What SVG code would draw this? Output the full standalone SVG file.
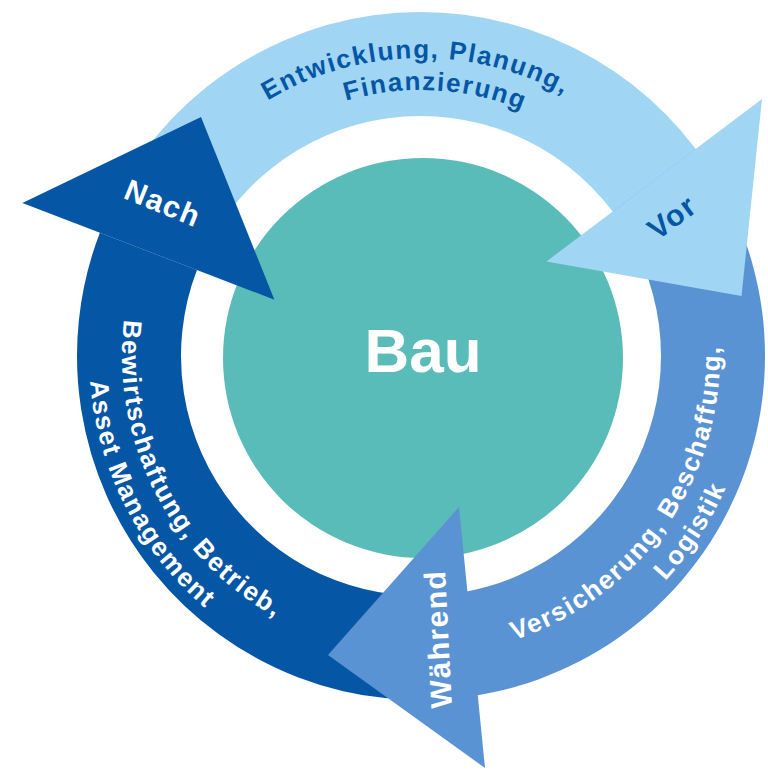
<svg xmlns="http://www.w3.org/2000/svg" xmlns:xlink="http://www.w3.org/1999/xlink" width="768" height="771" viewBox="0 0 768 771">
  <style>
    .vor { fill: #a0d6f4; }
    .waehrend { fill: #5a93d3; }
    .nach { fill: #0656a6; }
    .bau { fill: #59bcb8; }
    .lbl { font-family: "Liberation Sans", Arial, sans-serif; font-weight: bold; }
    .ring { font-size: 26px; letter-spacing: 1.6px; }
    .head { font-size: 30px; letter-spacing: 1.5px; }
    .dk { fill: #0656a6; }
    .wt { fill: #ffffff; }
  </style>
  <defs>
    <path id="topArc1" d="M 123 356 A 298 298 0 0 1 719 356"/>
    <path id="topArc2" d="M 155 356 A 266 266 0 0 1 687 356"/>
    <path id="leftArc1" d="M 421 57 A 299 299 0 0 0 421 655"/>
    <path id="leftArc2" d="M 421 24 A 332 332 0 0 0 421 688"/>
    <path id="rightArc1" d="M 421 655 A 299 299 0 0 0 421 57"/>
    <path id="rightArc2" d="M 421 688 A 332 332 0 0 0 421 24"/>
  </defs>
  <rect width="768" height="771" fill="#ffffff"/>

  <g id="node-bau">
    <circle class="bau" cx="423" cy="358" r="200"/>
    <text class="lbl wt" x="423" y="372" font-size="62" text-anchor="middle">Bau</text>
  </g>

  <g id="connectors">
    <path class="vor" d="M 99.85 232.72 A 344 344 0 0 1 695.73 148.97 L 612.67 211.56 A 240 240 0 0 0 196.94 269.99 Z"/>
    <path class="waehrend" d="M 695.73 148.97 A 344 344 0 0 1 474.81 695.77 L 458.54 593.05 A 240 240 0 0 0 612.67 211.56 Z"/>
    <path class="nach" d="M 474.81 695.77 A 344 344 0 0 1 99.85 232.72 L 196.94 269.99 A 240 240 0 0 0 458.54 593.05 Z"/>
    <polygon class="vor" points="762,99 546.4,261.5 741.5,296"/>
    <polygon class="waehrend" points="459,507 485,768 328,655"/>
    <polygon class="nach" points="22.4,203 274.4,299.7 201,117"/>
  </g>

  <g id="node-vor">
    <text class="lbl ring dk" text-anchor="middle"><textPath xlink:href="#topArc1" href="#topArc1" startOffset="49.4%">Entwicklung, Planung,</textPath></text>
    <text class="lbl ring dk" text-anchor="middle"><textPath xlink:href="#topArc2" href="#topArc2" startOffset="51.7%">Finanzierung</textPath></text>
    <text class="lbl head dk" text-anchor="middle" transform="translate(672,217) rotate(-36.7)" x="0" y="10.5">Vor</text>
  </g>

  <g id="node-waehrend">
    <text class="lbl ring wt" text-anchor="middle"><textPath xlink:href="#rightArc1" href="#rightArc1" startOffset="30.6%">Versicherung, Beschaffung,</textPath></text>
    <text class="lbl ring wt" text-anchor="middle"><textPath xlink:href="#rightArc2" href="#rightArc2" startOffset="31.7%">Logistik</textPath></text>
    <text class="lbl head wt" text-anchor="middle" transform="translate(438,639) rotate(-93)" x="0" y="10.5">Während</text>
  </g>

  <g id="node-nach">
    <text class="lbl ring wt" text-anchor="middle"><textPath xlink:href="#leftArc1" href="#leftArc1" startOffset="65%">Bewirtschaftung, Betrieb,</textPath></text>
    <text class="lbl ring wt" text-anchor="middle"><textPath xlink:href="#leftArc2" href="#leftArc2" startOffset="65%">Asset Management</textPath></text>
    <text class="lbl head wt" text-anchor="middle" transform="translate(163,203) rotate(22)" x="0" y="10.5">Nach</text>
  </g>
</svg>
